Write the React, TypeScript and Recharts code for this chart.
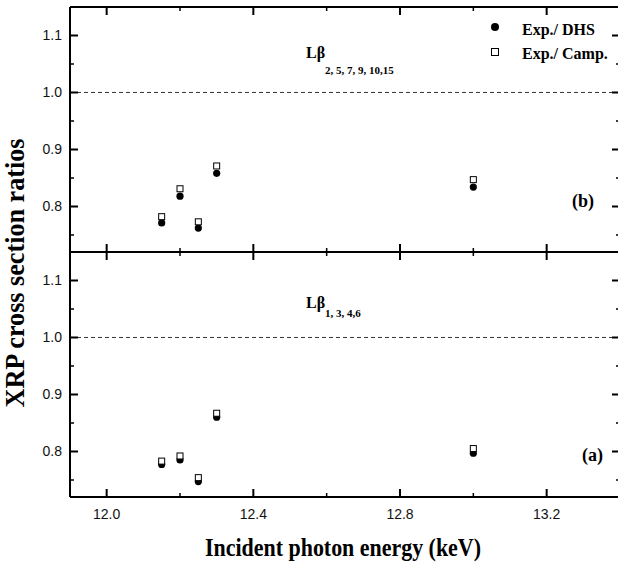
import React from "react";
import { Legend, ReferenceLine, Scatter, ScatterChart, XAxis, YAxis } from "recharts";

// incident photon energies (keV)
const energies = [12.15, 12.2, 12.25, 12.3, 13.0];

// panel (b): L beta 2,5,7,9,10,15
const dhsB = [0.771, 0.818, 0.762, 0.858, 0.834];
const campB = [0.782, 0.831, 0.773, 0.871, 0.847];

// panel (a): L beta 1,3,4,6
const dhsA = [0.777, 0.785, 0.747, 0.86, 0.797];
const campA = [0.783, 0.792, 0.754, 0.867, 0.805];

const seriesNames = ["Exp./ DHS", "Exp./ Camp."];

const xTicks = [12.0, 12.2, 12.4, 12.6, 12.8, 13.0, 13.2];
const xMajor = [12.0, 12.4, 12.8, 13.2];
const yTicks = [0.75, 0.8, 0.85, 0.9, 0.95, 1.0, 1.05, 1.1];
const yMajor = [0.8, 0.9, 1.0, 1.1];
const xDomain: [number, number] = [11.9, 13.4];
const yDomain: [number, number] = [0.72, 1.15];

const CHART_W = 621;
const LEFT = 69;
const PLOT_W = CHART_W - LEFT - 1 - 1; // minus the two 1px axes
const PLOT_H = 245;

const toPoints = (ys: number[]) => energies.map((x, i) => ({ x, y: ys[i] }));

const isMajor = (list: number[], v: number) => list.some((m) => Math.abs(m - v) < 1e-6);

const tickFont = { fontFamily: "'Liberation Sans', Arial, sans-serif", fontSize: 14, fill: "#111" };
const serif = "'Liberation Serif', 'Times New Roman', serif";
const axisLine = { stroke: "#000", strokeWidth: 2 };

// inward ticks on both the bottom and the top frame edge
const makeXTick = (labels: boolean) => (props: any) => {
  const { x, y, payload } = props;
  const major = isMajor(xMajor, payload.value);
  const len = major ? 8 : 4;
  const top = y - PLOT_H;
  return (
    <g>
      <path d={`M${x},${y}V${y - len}M${x},${top}V${top + len}`} stroke="#000" strokeWidth={major ? 2 : 1.5} fill="none" />
      {labels && major && (
        <text x={x} y={y + 22} textAnchor="middle" {...tickFont}>
          {payload.value.toFixed(1)}
        </text>
      )}
    </g>
  );
};

// inward ticks on both the left and the right frame edge
const makeYTick = () => (props: any) => {
  const { x, y, payload } = props;
  const major = isMajor(yMajor, payload.value);
  const len = major ? 8 : 4;
  const right = x + PLOT_W;
  return (
    <g>
      <path d={`M${x},${y}H${x + len}M${right},${y}H${right - len}`} stroke="#000" strokeWidth={major ? 2 : 1.5} fill="none" />
      {major && (
        <text x={x - 8} y={y + 5} textAnchor="end" {...tickFont}>
          {payload.value.toFixed(1)}
        </text>
      )}
    </g>
  );
};

const Dot = (p: any) => <circle cx={p.cx} cy={p.cy} r={3.6} fill="#000" />;
const Box = (p: any) => (
  <rect x={p.cx - 3} y={p.cy - 3} width={6} height={6} fill="#fff" stroke="#000" strokeWidth={1} />
);

function LegendBox({ payload }: any) {
  const names: string[] = payload && payload.length ? payload.map((e: any) => e.value) : seriesNames;
  const items = [...names].sort((a, b) => seriesNames.indexOf(a) - seriesNames.indexOf(b));
  return (
    <svg width={132} height={52}>
      {items.map((name, i) => (
        <g key={name}>
          {seriesNames.indexOf(name) === 0 ? (
            <circle cx={9} cy={13 + i * 25} r={4} fill="#000" />
          ) : (
            <rect x={5.5} y={9.5 + i * 25} width={7} height={7} fill="#fff" stroke="#000" strokeWidth={1} />
          )}
          <text x={36} y={21 + i * 24} fontFamily={serif} fontWeight="bold" fontSize={16} fill="#000">
            {name}
          </text>
        </g>
      ))}
    </svg>
  );
}

function Panel({
  dhs,
  camp,
  top,
  bottom,
  bottomLabels,
  legend,
}: {
  dhs: number[];
  camp: number[];
  top: number;
  bottom: number;
  bottomLabels: boolean;
  legend?: boolean;
}) {
  const height = top + PLOT_H + 1 + bottom;
  return (
    <ScatterChart width={CHART_W} height={height} margin={{ top: top - 1, right: 0, bottom, left: LEFT }}>
      <XAxis
        type="number"
        dataKey="x"
        domain={xDomain}
        ticks={xTicks}
        interval={0}
        allowDataOverflow
        height={1}
        tickSize={0}
        tickMargin={0}
        tickLine={false}
        axisLine={axisLine}
        tick={makeXTick(bottomLabels)}
      />
      <XAxis
        xAxisId="top"
        orientation="top"
        type="number"
        domain={xDomain}
        height={1}
        tick={false}
        tickLine={false}
        axisLine={axisLine}
      />
      <YAxis
        type="number"
        dataKey="y"
        domain={yDomain}
        ticks={yTicks}
        interval={0}
        allowDataOverflow
        width={1}
        tickSize={0}
        tickMargin={0}
        tickLine={false}
        axisLine={axisLine}
        tick={makeYTick()}
      />
      <YAxis
        yAxisId="right"
        orientation="right"
        type="number"
        domain={yDomain}
        width={1}
        tick={false}
        tickLine={false}
        axisLine={axisLine}
      />
      <ReferenceLine y={1.0} stroke="#333" strokeWidth={1} strokeDasharray="4 3" />
      <Scatter name={seriesNames[0]} data={toPoints(dhs)} shape={Dot} isAnimationActive={false} />
      <Scatter name={seriesNames[1]} data={toPoints(camp)} shape={Box} isAnimationActive={false} />
      {legend && (
        <Legend
          layout="vertical"
          align="center"
          verticalAlign="middle"
          wrapperStyle={{ position: "absolute", top: 14, left: 486, width: 132, height: 52 }}
          content={LegendBox}
        />
      )}
    </ScatterChart>
  );
}

export default function App() {
  const bold = { fontFamily: serif, fontWeight: "bold" as const, fill: "#000" };
  return (
    <div
      style={{
        position: "fixed",
        top: 0,
        left: 0,
        width: 618,
        height: 562,
        overflow: "hidden",
        background: "#fff",
      }}
    >
      <div style={{ position: "absolute", top: 0, left: 0 }}>
        <Panel dhs={dhsB} camp={campB} top={7} bottom={9} bottomLabels={false} legend />
      </div>
      <div style={{ position: "absolute", top: 0, left: 0 }}>
        <Panel dhs={dhsA} camp={campA} top={252} bottom={64} bottomLabels />
      </div>
      <svg
        width={618}
        height={562}
        style={{ position: "absolute", top: 0, left: 0, pointerEvents: "none" }}
      >
        <text x={306} y={58} fontSize={16} {...bold}>
          Lβ
          <tspan fontSize={11} dy={16}>
            2, 5, 7, 9, 10,15
          </tspan>
        </text>
        <text x={306} y={308} fontSize={16} {...bold}>
          Lβ
          <tspan fontSize={11} dy={9}>
            1, 3, 4,6
          </tspan>
        </text>
        <text x={572} y={207} fontSize={18} {...bold}>
          (b)
        </text>
        <text x={582} y={461} fontSize={18} {...bold}>
          (a)
        </text>
        <text
          x={343}
          y={556}
          textAnchor="middle"
          fontSize={26}
          textLength={276}
          lengthAdjust="spacingAndGlyphs"
          {...bold}
        >
          Incident photon energy (keV)
        </text>
        <text
          transform="translate(23.5,273) rotate(-90)"
          textAnchor="middle"
          fontSize={27}
          textLength={269}
          lengthAdjust="spacingAndGlyphs"
          {...bold}
        >
          XRP cross section ratios
        </text>
      </svg>
    </div>
  );
}
